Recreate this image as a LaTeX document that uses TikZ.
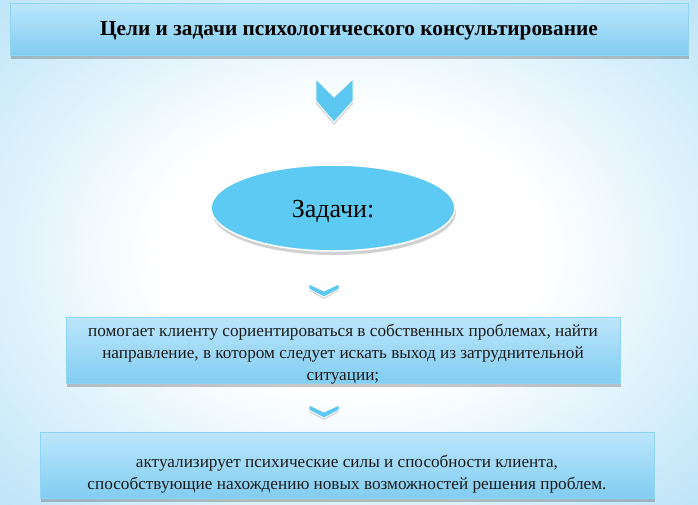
\documentclass[tikz,border=0pt]{standalone}
\usepackage{fontspec}
\setmainfont{Liberation Serif}
\usetikzlibrary{shadows,shapes.geometric}
\definecolor{bgblue}{HTML}{A3DAF5}
\definecolor{boxtop}{HTML}{BCE6FB}
\definecolor{boxbot}{HTML}{82CDF2}
\definecolor{boxline}{HTML}{8ED5F5}
\definecolor{chev}{HTML}{5CC8F2}
\definecolor{ell}{HTML}{5DCAF3}
\definecolor{txtc}{HTML}{1A1A1A}
\pgfdeclareradialshading{bgshade}{\pgfpoint{0bp}{0bp}}{color(0bp)=(white); color(14bp)=(white); color(44bp)=(bgblue); color(50bp)=(bgblue)}
\tikzset{
  gbox/.style={draw=boxline, line width=0.6pt, top color=boxtop, bottom color=boxbot,
    drop shadow={shadow xshift=1pt, shadow yshift=-4pt, fill=black, opacity=0.22}},
  btxt/.style={align=center, text=txtc, font=\fontsize{17.2}{22}\selectfont, inner sep=0pt},
  chevshape/.style={fill=chev, draw=white, line width=0.8pt},
  chevshadow/.style={fill=gray, opacity=0.3},
}
\begin{document}
\begin{tikzpicture}[x=1pt,y=-1pt]
\useasboundingbox (0,0) rectangle (698,504);
\shade[shading=bgshade] (0,0) rectangle (698,504);

% title
\node[gbox, minimum width=678pt, minimum height=52pt, inner sep=0pt] (title) at (349,29) {};
\node[inner sep=0pt, font=\fontsize{21.3}{24}\selectfont\bfseries] (tt) at ([yshift=-2pt]title.center)
      {Цели и задачи психологического консультирование};

% big chevron
\coordinate (c1) at (334,100);
\fill[chevshadow] ([yshift=-3pt]c1) ++(-18,-21) -- ++(18,18) -- ++(19,-18) -- ++(0,22) -- ++(-19,21) -- ++(-18,-21) -- cycle;
\path[chevshape] (c1) ++(-18,-21) -- ++(18,18) -- ++(19,-18) -- ++(0,22) -- ++(-19,21) -- ++(-18,-21) -- cycle;

% ellipse
\node[ellipse, minimum width=244pt, minimum height=86pt, fill=ell, draw=white, line width=1.5pt,
      drop shadow={shadow xshift=1pt, shadow yshift=-4pt, fill=black, opacity=0.18}] (z) at (333,208) {};
\node[inner sep=0pt, font=\fontsize{26}{30}\selectfont] (zt) at ([yshift=-3pt]z.center) {Задачи:};

% small chevron 1
\coordinate (c2) at (324,290);
\fill[chevshadow] ([yshift=-2pt]c2) ++(-15,-6) -- ++(15,7) -- ++(15,-7) -- ++(0,5) -- ++(-15,8) -- ++(-15,-8) -- cycle;
\path[chevshape] (c2) ++(-15,-6) -- ++(15,7) -- ++(15,-7) -- ++(0,5) -- ++(-15,8) -- ++(-15,-8) -- cycle;

% box 2
\node[gbox, minimum width=554pt, minimum height=66pt] (b2) at (343,350) {};
\node[btxt] (t2) at ([yshift=-4pt]b2.center)
  {помогает клиенту сориентироваться в собственных проблемах, найти\\
   направление, в котором следует искать выход из затруднительной\\
   ситуации;};

% small chevron 2
\coordinate (c3) at (324,411);
\fill[chevshadow] ([yshift=-2pt]c3) ++(-15,-6) -- ++(15,7) -- ++(15,-7) -- ++(0,5) -- ++(-15,8) -- ++(-15,-8) -- cycle;
\path[chevshape] (c3) ++(-15,-6) -- ++(15,7) -- ++(15,-7) -- ++(0,5) -- ++(-15,8) -- ++(-15,-8) -- cycle;

% box 3
\node[gbox, minimum width=614pt, minimum height=66pt] (b3) at (347,465) {};
\node[btxt] (t3) at ([yshift=-9pt]b3.center)
  {актуализирует психические силы и способности клиента,\\
   способствующие нахождению новых возможностей решения проблем.};
\end{tikzpicture}
\end{document}
